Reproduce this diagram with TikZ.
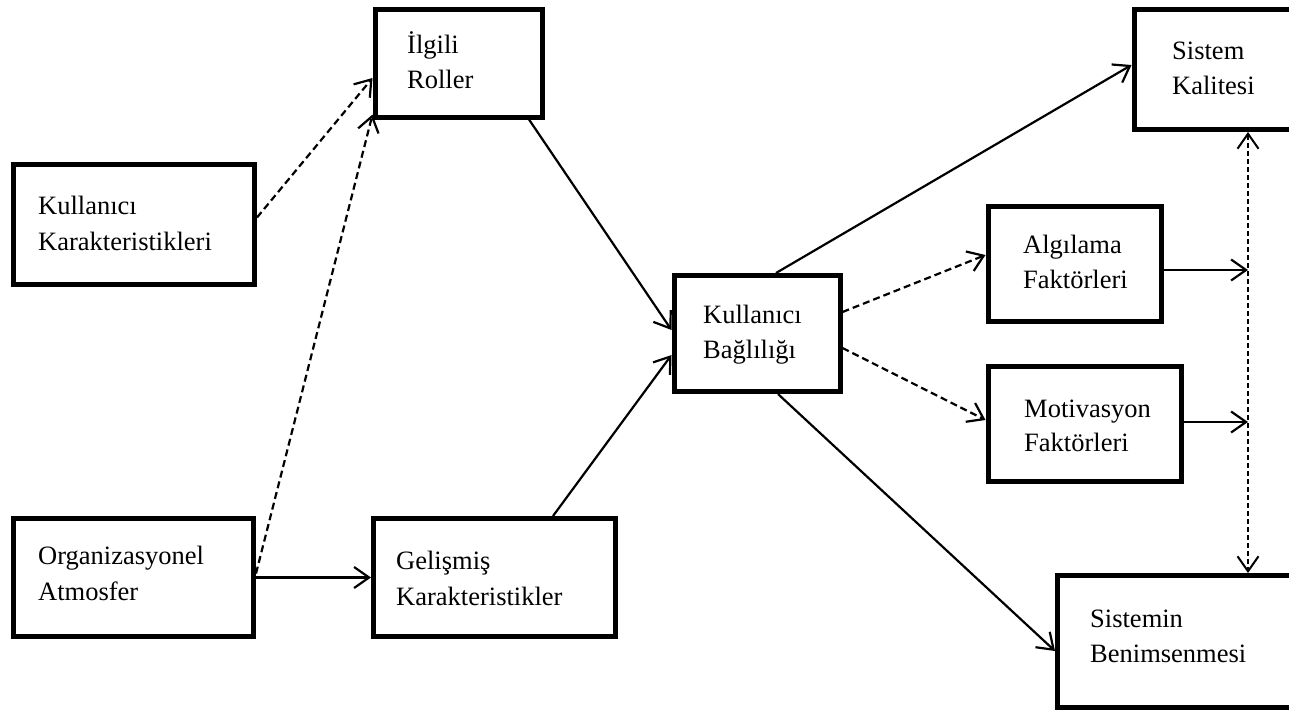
\documentclass[tikz,border=0pt]{standalone}
\usepackage{fontspec}
\setmainfont{Liberation Serif}
\usetikzlibrary{arrows.meta}

\tikzset{
  bx/.style={draw, rectangle, line width=5pt, inner sep=0pt},
  lbl/.style={inner sep=0pt, anchor=base west, font=\fontsize{26.5}{36}\selectfont},
  tip/.style={Straight Barb[length=15pt,width=21pt]},
  link/.style={line width=2.2pt, -{Straight Barb[length=15pt,width=21pt]}},
  dlink/.style={link, dash pattern=on 7pt off 4pt},
  bus/.style={line width=2pt, dash pattern=on 5pt off 3pt,
    {Straight Barb[length=15pt,width=21pt]}-{Straight Barb[length=15pt,width=21pt]}}
}

\begin{document}
\begin{tikzpicture}[x=1pt, y=-1pt]
\useasboundingbox (0,0) rectangle (1289,710);
\clip (0,0) rectangle (1289,710);

% boxes
\node[bx, minimum width=241pt, minimum height=120pt] (kk) at (134,224.5) {};
\node[bx, minimum width=167pt, minimum height=107.5pt] (ir) at (458.5,63.25) {};
\node[bx, minimum width=240pt, minimum height=118pt] (oa) at (133.5,577.5) {};
\node[bx, minimum width=242pt, minimum height=118pt] (gk) at (494.5,577.5) {};
\node[bx, minimum width=166pt, minimum height=116pt] (kb) at (757,333.5) {};
\node[bx, minimum width=176pt, minimum height=120pt] (sk) at (1222,69.5) {};
\node[bx, minimum width=173.5pt, minimum height=115pt] (af) at (1074.75,263.5) {};
\node[bx, minimum width=193.5pt, minimum height=115pt] (mf) at (1084.75,423.5) {};
\node[bx, minimum width=252.5pt, minimum height=132pt] (sb) at (1183.75,641.5) {};

% labels
\node[lbl] (kk-a) at (38,214) {Kullanıcı};
\node[lbl] (kk-b) at (38,250) {Karakteristikleri};
\node[lbl] (ir-a) at (407,53) {İlgili};
\node[lbl] (ir-b) at (407,88) {Roller};
\node[lbl] (kb-a) at (703,323) {Kullanıcı};
\node[lbl] (kb-b) at (703,358) {Bağlılığı};
\node[lbl] (sk-a) at (1172,59) {Sistem};
\node[lbl] (sk-b) at (1172,94) {Kalitesi};
\node[lbl] (af-a) at (1023,253) {Algılama};
\node[lbl] (af-b) at (1023,288) {Faktörleri};
\node[lbl] (mf-a) at (1024,417) {Motivasyon};
\node[lbl] (mf-b) at (1024,451) {Faktörleri};
\node[lbl] (oa-a) at (38,564) {Organizasyonel};
\node[lbl] (oa-b) at (38,600) {Atmosfer};
\node[lbl] (gk-a) at (396,569) {Gelişmiş};
\node[lbl] (gk-b) at (396,605) {Karakteristikler};
\node[lbl] (sb-a) at (1090,627) {Sistemin};
\node[lbl] (sb-b) at (1090,662) {Benimsenmesi};

% points on the vertical link
\coordinate (busA) at (1248,270);
\coordinate (busM) at (1248,422);

% connectors
\draw[dlink] ([yshift=7pt]kk.east) -- ([yshift=-14.75pt]ir.west);
\draw[dlink] ([yshift=4pt]oa.east) -- ([yshift=5pt]ir.south west);
\draw[link] (oa.east) -- (gk.west);
\draw[link] ([xshift=70.5pt]ir.south) -- ([yshift=3.5pt]kb.west);
\draw[link] ([xshift=58.5pt]gk.north) -- ([yshift=-21.5pt]kb.west);
\draw[link] ([xshift=19pt]kb.north) -- ([yshift=4.5pt]sk.west);
\draw[dlink] ([yshift=21.5pt]kb.east) -- ([yshift=8.5pt]af.west);
\draw[dlink] ([yshift=-14.5pt]kb.east) -- ([yshift=3.5pt]mf.west);
\draw[link] ([xshift=21pt]kb.south) -- ([yshift=-9.5pt]sb.west);
\draw[link] ([yshift=-6.5pt]af.east) -- (busA);
\draw[link] ([yshift=1.5pt]mf.east) -- (busM);
\draw[bus] ([xshift=26pt]sk.south) -- ([xshift=64.25pt]sb.north);
\end{tikzpicture}
\end{document}
